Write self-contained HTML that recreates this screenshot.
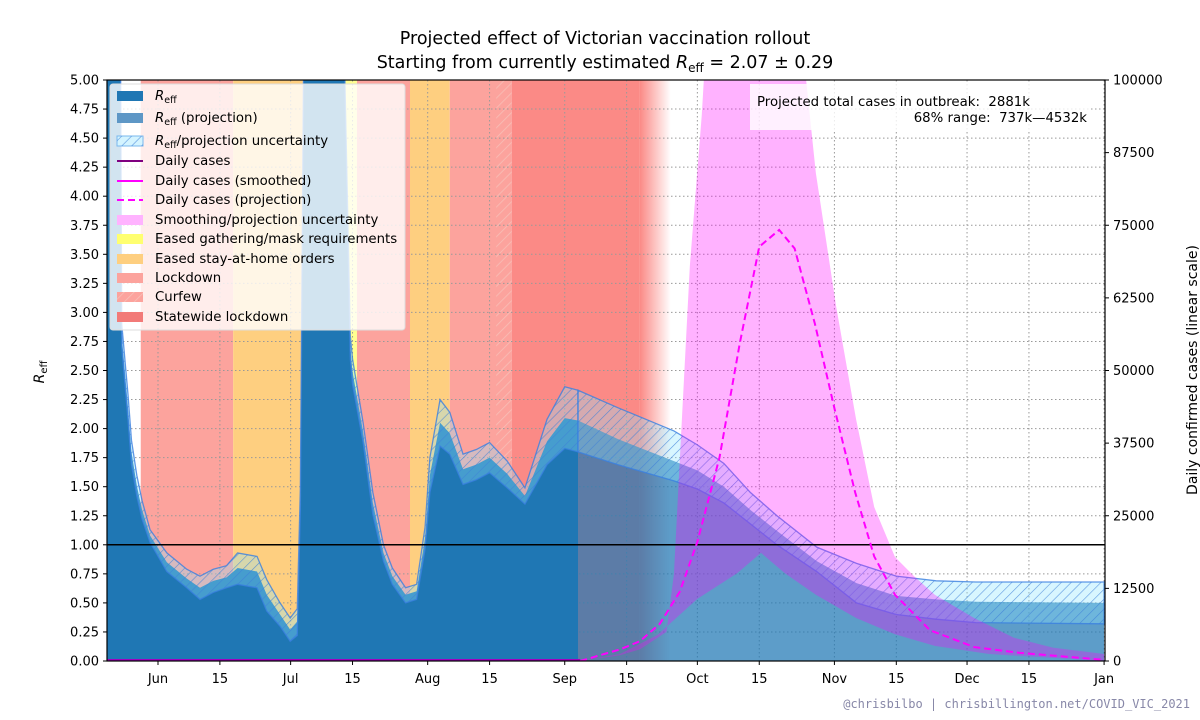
<!DOCTYPE html>
<html><head><meta charset="utf-8"><style>
html,body{margin:0;padding:0;background:#fff}
svg{display:block;font-family:"DejaVu Sans","Liberation Sans",sans-serif}
</style></head><body>
<svg id="chart" width="1200" height="720" viewBox="0 0 1200 720" xmlns="http://www.w3.org/2000/svg">
<defs>
<clipPath id="plotclip"><rect x="107" y="80" width="998" height="581"/></clipPath>
<pattern id="hatch" width="7" height="7" patternUnits="userSpaceOnUse" patternTransform="rotate(45)">
<line x1="0" y1="0" x2="0" y2="7" stroke="#3f7fd8" stroke-width="1.2" stroke-opacity="0.8"/></pattern>
<pattern id="hatchred" width="7" height="7" patternUnits="userSpaceOnUse" patternTransform="rotate(45)">
<line x1="0" y1="0" x2="0" y2="7" stroke="#f7c0b8" stroke-width="1.5"/></pattern>
<linearGradient id="fade" x1="0" x2="1" y1="0" y2="0">
<stop offset="0" stop-color="#fb8a86" stop-opacity="1"/><stop offset="1" stop-color="#fb8a86" stop-opacity="0"/></linearGradient>
</defs>
<g id="bg" clip-path="url(#plotclip)"></g>
<g id="grid"></g>
<g id="marks" clip-path="url(#plotclip)"></g>
<g id="axes"></g>
</svg>
<script>
// ---- data ----
const reffDays  = [-11.5,-8.5,-8.2,-6.8,-6,-4.8,-3.6,-1.8,2,6.5,9.5,12.5,15.5,18,22.4,24.6,27.6,29.9,31.5,32.2,33,42,43.5,44,46.4,48.6,51,53,56,58.5,60.4,61.5,63.8,66,69,72,75,79,83,88,92,95];
const reffLower = [5.5,5.5,2.7,2.08,1.69,1.42,1.22,1.02,0.77,0.63,0.53,0.59,0.63,0.66,0.63,0.43,0.30,0.17,0.22,1.30,5.5,5.5,2.6,2.38,1.88,1.26,0.86,0.66,0.50,0.53,0.96,1.45,1.85,1.78,1.52,1.56,1.62,1.49,1.35,1.69,1.83,1.80];
const reffCenter= [5.5,5.5,2.8,2.19,1.8,1.51,1.30,1.08,0.85,0.71,0.63,0.69,0.72,0.80,0.77,0.57,0.40,0.27,0.34,1.40,5.5,5.5,2.7,2.49,1.97,1.36,0.93,0.73,0.57,0.60,1.06,1.60,2.05,1.96,1.65,1.69,1.75,1.61,1.42,1.89,2.09,2.07];
const reffUpper = [5.5,5.5,2.9,2.3,1.9,1.6,1.38,1.13,0.93,0.79,0.73,0.79,0.82,0.93,0.90,0.70,0.50,0.37,0.45,1.49,5.5,5.5,2.8,2.6,2.05,1.45,1.0,0.8,0.63,0.66,1.15,1.75,2.25,2.14,1.78,1.82,1.88,1.72,1.49,2.08,2.36,2.33];
const projDays  = [95,104,116.7,122,128,134,140,149,158,167,176,185,214];
const projLower = [1.80,1.69,1.55,1.48,1.36,1.18,1.0,0.77,0.50,0.40,0.36,0.33,0.32];
const projCenter= [2.07,1.91,1.72,1.64,1.50,1.30,1.12,0.86,0.67,0.56,0.53,0.51,0.50];
const projUpper = [2.33,2.18,1.98,1.86,1.70,1.45,1.25,0.98,0.84,0.73,0.69,0.68,0.68];
const caseDays  = [95.5,104.5,109,113.5,118,122,127,131.6,136,140.5,144,148.6,153,157.7,162,166.7,174.6,184.6,195,214];
const caseProj  = [0,2000,3400,6400,11900,20500,35000,54700,71300,74200,71000,58000,43500,29000,18000,11400,5300,2400,1400,200];
const upperDays = [95.5,104.5,109,115,116.7,118.5,120.3,123,125,145,146.6,148.8,153.4,157.9,162,166.7,171,175.7,184.6,193.6,202.4,214];
const caseUpper = [0,1000,2000,5000,15000,41600,68000,94000,120000,120000,100000,84000,61000,41600,26500,17900,14600,11400,7400,4000,2300,1200];
const lowerDays = [95.5,104.5,113,122,131,136.4,141.8,148.8,157.9,166.7,175.7,188,214];
const caseLower = [0,1200,4500,10700,15100,18600,15100,11400,7400,4600,2600,1200,0];
const bandStarts= [-3.9,17,32.6,41.2,45,57,66,80];
const bandEnds  = [17,32.6,33,45,57,66,80,109];
const bandKinds = ['lockdown','eased','eased','gather','lockdown','eased','lockdown','statewide'];
const xTickDays = [0,14,30,44,61,75,92,106,122,136,153,167,183,197,214];
const xTickLabels = ['Jun','15','Jul','15','Aug','15','Sep','15','Oct','15','Nov','15','Dec','15','Jan'];
const rTicks = [0,0.25,0.5,0.75,1,1.25,1.5,1.75,2,2.25,2.5,2.75,3,3.25,3.5,3.75,4,4.25,4.5,4.75,5];
const cTicks = [0,12500,25000,37500,50000,62500,75000,87500,100000];

// ---- scales ----
const X = d => 158 + d*4.421;
const YR = r => 661 - r*116.2;
const YC = c => 661 - c*0.00581;
const NS='http://www.w3.org/2000/svg';
function mk(tag, attrs, parent){const e=document.createElementNS(NS,tag);for(const k in attrs)e.setAttribute(k,attrs[k]);parent.appendChild(e);return e;}
const bg=document.getElementById('bg'), grid=document.getElementById('grid'), marks=document.getElementById('marks'), axes=document.getElementById('axes');

const bandColor={lockdown:'#fca39d',eased:'#fecf80',gather:'#ffff90',statewide:'#fb8a86'};
bandStarts.forEach((s,i)=>{
  const r=mk('rect',{x:X(s),y:80,width:X(bandEnds[i])-X(s),height:581,fill:bandColor[bandKinds[i]]},bg);
  
  
});
const cf=mk('rect',{x:X(76.5),y:80,width:X(80)-X(76.5),height:581,fill:'url(#hatchred)'},bg);


const fd=mk('rect',{x:X(109),y:80,width:X(116)-X(109),height:581,fill:'url(#fade)'},bg);



rTicks.forEach(t=>{mk('line',{x1:107,x2:1105,y1:YR(t),y2:YR(t),stroke:'#999','stroke-dasharray':'1.5,2.5','stroke-width':1},grid);});
xTickDays.forEach(d=>{mk('line',{x1:X(d),x2:X(d),y1:80,y2:661,stroke:'#999','stroke-dasharray':'1.5,2.5','stroke-width':1},grid);});

function area(days, lo, hi){
  let p='M'+days.map((d,i)=>X(d)+','+YR(hi[i])).join('L');
  for(let i=days.length-1;i>=0;i--)p+='L'+X(days[i])+','+YR(lo?lo[i]:0);
  return p+'Z';
}
function areaC(dU,u,dL,l){
  let p='M'+dU.map((d,i)=>X(d)+','+YC(u[i])).join('L');
  for(let i=dL.length-1;i>=0;i--)p+='L'+X(dL[i])+','+YC(l[i]);
  return p+'Z';
}
const rf=mk('path',{d:area(reffDays,null,reffCenter),fill:'#1f77b4'},marks);


const pf=mk('path',{d:area(projDays,null,projCenter),fill:'#1f77b4','fill-opacity':0.72},marks);


[[reffDays,reffLower,reffUpper],[projDays,projLower,projUpper]].forEach((a,k)=>{
  const b=mk('path',{d:area(a[0],a[1],a[2]),fill:'#8fe4ff','fill-opacity':0.35},marks);
  
  
  const h=mk('path',{d:area(a[0],a[1],a[2]),fill:'url(#hatch)',stroke:'#3a80e0','stroke-width':1.3,'stroke-opacity':0.8},marks);
  
  
});
const cb=mk('path',{d:areaC(upperDays,caseUpper,lowerDays,caseLower),fill:'#ff00ff','fill-opacity':0.3},marks);


const one=mk('line',{x1:107,x2:1105,y1:YR(1),y2:YR(1),stroke:'#000','stroke-width':1.5},marks);


const dc=mk('line',{x1:107,x2:X(95.5),y1:660,y2:660,stroke:'#a000c0','stroke-width':2},marks);


const pl=mk('polyline',{points:caseDays.map((d,i)=>X(d)+','+YC(caseProj[i])).join(' '),fill:'none',stroke:'#ff00ff','stroke-width':2,'stroke-dasharray':'7,4'},marks);



mk('rect',{x:107,y:80,width:998,height:581,fill:'none',stroke:'#000','stroke-width':1.2},axes);
rTicks.forEach(t=>{
  mk('line',{x1:103,x2:107,y1:YR(t),y2:YR(t),stroke:'#000'},axes);
  const tx=mk('text',{x:99,y:YR(t)+4.5,'text-anchor':'end','font-size':13},axes);
  tx.textContent=t.toFixed(2);
  
  
});
cTicks.forEach(t=>{
  mk('line',{x1:1105,x2:1109,y1:YC(t),y2:YC(t),stroke:'#000'},axes);
  const tx=mk('text',{x:1113,y:YC(t)+4.5,'font-size':13},axes);
  tx.textContent=String(t);
  
  
});
xTickDays.forEach((d,i)=>{
  mk('line',{x1:X(d),x2:X(d),y1:661,y2:665,stroke:'#000'},axes);
  const tx=mk('text',{x:X(d),y:683,'text-anchor':'middle','font-size':13},axes);
  tx.textContent=xTickLabels[i];
  
  
});
</script>
<svg width="1200" height="720" style="position:absolute;left:0;top:0" xmlns="http://www.w3.org/2000/svg">
<g font-size="17.5" text-anchor="middle">
<text x="605" y="44">Projected effect of Victorian vaccination rollout</text>
<text x="605" y="68">Starting from currently estimated <tspan font-style="italic">R</tspan><tspan font-size="12" dy="4">eff</tspan><tspan dy="-4"> = 2.07 ± 0.29</tspan></text>
</g>
<text transform="translate(44,372) rotate(-90)" text-anchor="middle" font-size="14"><tspan font-style="italic">R</tspan><tspan font-size="10" dy="3">eff</tspan></text>
<text transform="translate(1197,370) rotate(-90)" text-anchor="middle" font-size="14">Daily confirmed cases (linear scale)</text>
<g style="white-space:pre">
<rect x="750" y="84" width="340" height="46" fill="#fff" fill-opacity="0.8"/>
<text x="757" y="106" font-size="13.3" xml:space="preserve">Projected total cases in outbreak:  2881k</text>
<text x="1087" y="122" font-size="13.3" text-anchor="end" xml:space="preserve">68% range:  737k—4532k</text>
</g>
<g font-size="13.3">
<rect x="110" y="84" width="295" height="246" rx="3" fill="#fff" fill-opacity="0.8" stroke="#ddd"/>
<rect x="117" y="91" width="26" height="10" fill="#1f77b4"/><text x="155" y="100"><tspan font-style="italic">R</tspan><tspan font-size="9.5" dy="3">eff</tspan></text>
<rect x="117" y="113" width="26" height="10" fill="#5e97c6"/><text x="155" y="122"><tspan font-style="italic">R</tspan><tspan font-size="9.5" dy="3">eff</tspan><tspan dy="-3"> (projection)</tspan></text>
<rect x="117" y="136" width="26" height="10" fill="#d4f4ff" stroke="#7ab8ee"/><rect x="117" y="136" width="26" height="10" fill="url(#hatch)"/><text x="155" y="145"><tspan font-style="italic">R</tspan><tspan font-size="9.5" dy="3">eff</tspan><tspan dy="-3">/projection uncertainty</tspan></text>
<line x1="117" x2="143" y1="161" y2="161" stroke="#800080" stroke-width="2"/><text x="155" y="165">Daily cases</text>
<line x1="117" x2="143" y1="181" y2="181" stroke="#ff00ff" stroke-width="2"/><text x="155" y="185">Daily cases (smoothed)</text>
<line x1="117" x2="143" y1="200" y2="200" stroke="#ff00ff" stroke-width="2" stroke-dasharray="7,4"/><text x="155" y="204">Daily cases (projection)</text>
<rect x="117" y="215" width="26" height="10" fill="#ffb3ff"/><text x="155" y="224">Smoothing/projection uncertainty</text>
<rect x="117" y="234" width="26" height="10" fill="#ffff70"/><text x="155" y="243">Eased gathering/mask requirements</text>
<rect x="117" y="254" width="26" height="10" fill="#fecf80"/><text x="155" y="263">Eased stay-at-home orders</text>
<rect x="117" y="273" width="26" height="10" fill="#fca39d"/><text x="155" y="282">Lockdown</text>
<rect x="117" y="292" width="26" height="10" fill="#fca39d"/><rect x="117" y="292" width="26" height="10" fill="url(#hatchred)"/><text x="155" y="301">Curfew</text>
<rect x="117" y="312" width="26" height="10" fill="#f27a78"/><text x="155" y="321">Statewide lockdown</text>
</g>
<text x="1190" y="708" text-anchor="end" font-size="12" fill="#8888a8" font-family="'DejaVu Sans Mono','Liberation Mono',monospace">@chrisbilbo | chrisbillington.net/COVID_VIC_2021</text>
</svg>
</body></html>
